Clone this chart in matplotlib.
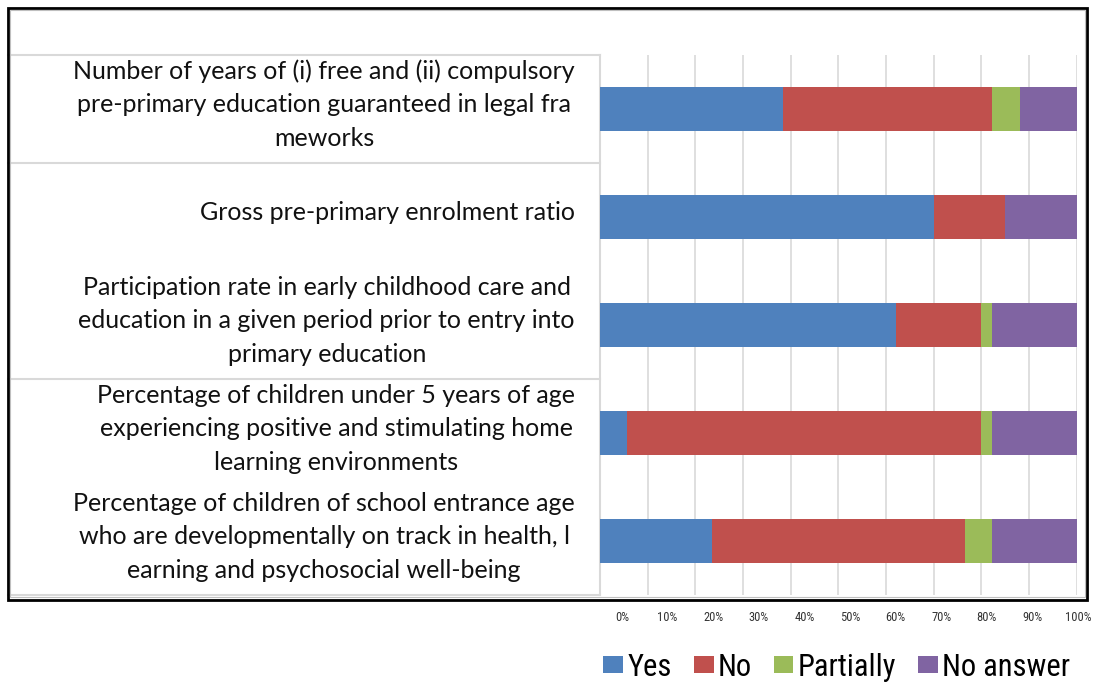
import matplotlib
matplotlib.use("Agg")
import matplotlib.pyplot as plt
from matplotlib.patches import Patch, Rectangle
from matplotlib.transforms import blended_transform_factory

# indicator labels (wrapped as in the source table)
indicators = [
    "Number of years of (i) free and (ii) compulsory\npre-primary education guaranteed in legal fra\nmeworks",
    "Gross pre-primary enrolment ratio",
    "Participation rate in early childhood care and\neducation in a given period prior to entry into\nprimary education",
    "Percentage of children under 5 years of age\nexperiencing positive and stimulating home\nlearning environments",
    "Percentage of children of school entrance age\nwho are developmentally on track in health, l\nearning and psychosocial well-being",
]

# share of responses, percent
yes = [38.4, 70.0, 62.0, 5.6, 23.5]
no = [43.8, 15.0, 18.0, 74.3, 53.1]
partially = [5.9, 0.0, 2.2, 2.3, 5.6]
no_answer = [11.9, 15.0, 17.8, 17.8, 17.8]

series = ["Yes", "No", "Partially", "No answer"]
colors = ["#4F81BD", "#C0504D", "#9BBB59", "#8064A2"]
tick_vals = [0, 10, 20, 30, 40, 50, 60, 70, 80, 90, 100]

W, H = 1096, 686
fig = plt.figure(figsize=(W / 100, H / 100), dpi=100)

def fx(px):
    return px / W

def fy(py):
    return (H - py) / H

ax = fig.add_axes([fx(600), fy(595), fx(1076.7) - fx(600), fy(55) - fy(595)])

rows = list(range(len(indicators)))
left = [0.0] * len(rows)
for vals, name, c in zip([yes, no, partially, no_answer], series, colors):
    ax.barh(rows, vals, left=left, height=0.41, color=c, label=name, zorder=3)
    left = [l + v for l, v in zip(left, vals)]

ax.set_xlim(0, 100)
ax.set_ylim(4.5, -0.5)
ax.set_xticks(tick_vals)
ax.set_yticks([])
ax.tick_params(axis="x", length=0, labelbottom=False)
ax.grid(axis="x", color="#d9d9d9", lw=1.2, zorder=0)
for s in ax.spines.values():
    s.set_visible(False)

# table rules on the left (category label cells)
tr = blended_transform_factory(fig.transFigure, ax.transData)
for yb in [-0.5, 0.5, 2.5, 4.5]:
    ax.plot([fx(8), fx(600)], [yb, yb], transform=tr, color="#d9d9d9",
            lw=1.5, clip_on=False, zorder=1)
ax.plot([fx(600), fx(600)], [-0.5, 4.5], transform=tr, color="#d9d9d9",
        lw=1.5, clip_on=False, zorder=1)

for i, lab in enumerate(indicators):
    ax.text(fx(575), i - 0.04, lab, transform=tr, ha="right", va="center",
            multialignment="center", fontsize=18, linespacing=1.55,
            family=["Lato", "DejaVu Sans"], color="#111111")

# outer frame with a faint inner shadow line
fig.patches.append(Rectangle((fx(8), fy(600)), fx(1087) - fx(8), fy(8) - fy(600),
                             transform=fig.transFigure, fill=False,
                             edgecolor="black", lw=2))
fig.patches.append(Rectangle((fx(10), fy(597)), fx(1085) - fx(10), fy(10) - fy(597),
                             transform=fig.transFigure, fill=False,
                             edgecolor="#bfbfbf", lw=0.8))

# percent scale below the frame
ax2 = fig.add_axes([fx(622), fy(610), fx(1078) - fx(622), 0.001])
ax2.set_xlim(0, 100)
ax2.set_ylim(0, 1)
ax2.set_xticks(tick_vals)
ax2.set_xticklabels([f"{v}%" for v in tick_vals],
                    family=["Roboto Condensed", "Roboto"], fontstretch="condensed",
                    fontsize=9, color="#333333")
ax2.set_yticks([])
ax2.tick_params(axis="x", length=0, pad=1)
for s in ax2.spines.values():
    s.set_visible(False)
ax2.patch.set_visible(False)

handles = [Patch(facecolor=c, label=n) for n, c in zip(series, colors)]
fig.legend(handles=handles, loc="center", bbox_to_anchor=(fx(837), fy(667)),
           ncol=4, frameon=False, handlelength=0.65, handleheight=0.5,
           handletextpad=0.15, columnspacing=0.7,
           prop={"family": ["Roboto Condensed", "Roboto"], "stretch": "condensed",
                 "size": 22})

fig.savefig("out.png", dpi=100)
